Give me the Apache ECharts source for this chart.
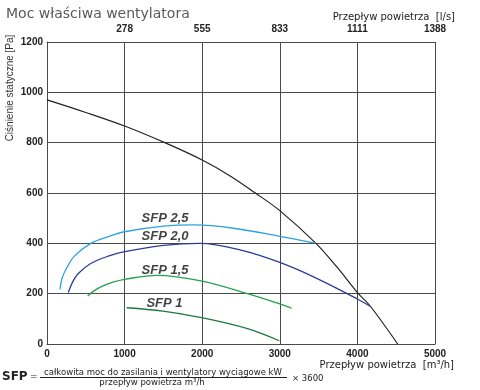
<!DOCTYPE html>
<html><head><meta charset="utf-8">
<script src="https://cdn.jsdelivr.net/npm/echarts@6/dist/echarts.min.js"></script>
<style>html,body{margin:0;padding:0;background:#fff}#c{width:480px;height:390px}</style>
</head><body><div id="c"></div>
<script>
const xTicks = [0, 1000, 2000, 3000, 4000, 5000];
const topTickLabels = ['', '278', '555', '833', '1111', '1388'];
const fanCurve = [[0,970],[500,920],[1000,866],[1540,797],[2000,731],[2360,668],[2680,601],[3000,530],[3466,400],[3733,307],[4012,200],[4162,152],[4519,0]];
const sfp25 = [[168,217],[195,262],[254,302],[350,348],[563,400],[800,428],[1000,446],[1500,468],[1900,473],[2400,460],[3000,428],[3460,401]];
const sfp20 = [[275,204],[320,240],[400,279],[563,320],[800,350],[1000,367],[1500,392],[1972,400],[2500,373],[3000,324],[3475,261],[4000,179],[4175,148]];
const sfp15 = [[524,191],[600,210],[700,228],[850,246],[1000,257],[1413,273],[2000,250],[2573,201],[3000,159],[3153,142]];
const sfp10 = [[1027,144],[1495,131],[1972,106],[2573,62],[2994,13]];
const sfpLabels = ['SFP 2,5', 'SFP 2,0', 'SFP 1,5', 'SFP 1'];
const sfpLabelPos = [[1521,500],[1521,429],[1521,294],[1514,161]];

const chart = echarts.init(document.getElementById('c'), null, {renderer: 'canvas'});
const gridColor = '#4a4a4a';
function lineSeries(data, color, w) {
  return {type: 'line', data: data, smooth: 0.35, symbol: 'none', xAxisIndex: 0, yAxisIndex: 0,
    lineStyle: {color: color, width: w}, silent: true, z: 3};
}
const tickFont = {fontFamily: 'Liberation Sans', fontSize: 10, fontWeight: 'bold', color: '#222'};
chart.setOption({
  animation: false,
  title: {text: 'Moc właściwa wentylatora', left: 1, top: 2,
    textStyle: {fontFamily: 'DejaVu Sans', fontSize: 14, fontWeight: 'normal', color: '#5a5a5a'}},
  grid: {left: 47, right: 45, top: 42, bottom: 46},
  xAxis: [
    {type: 'value', position: 'bottom', min: 0, max: 5000, interval: 1000,
      axisLine: {show: true, lineStyle: {color: gridColor}}, axisTick: {show: false},
      splitLine: {show: true, lineStyle: {color: gridColor, width: 1}},
      axisLabel: Object.assign({margin: 5, formatter: v => String(v)}, tickFont)},
    {type: 'value', position: 'top', min: 0, max: 5000, interval: 1000,
      axisLine: {show: true, lineStyle: {color: gridColor}}, axisTick: {show: false}, splitLine: {show: false},
      axisLabel: Object.assign({margin: 8, formatter: v => topTickLabels[xTicks.indexOf(v)] || ''}, tickFont)}
  ],
  yAxis: [{type: 'value', min: 0, max: 1200, interval: 200,
    axisLine: {show: true, lineStyle: {color: gridColor}}, axisTick: {show: false},
    splitLine: {show: true, lineStyle: {color: gridColor, width: 1}},
    axisLabel: Object.assign({margin: 4, formatter: v => String(v)}, tickFont)}],
  series: [
    lineSeries(fanCurve, '#222222', 1.2),
    lineSeries(sfp25, '#2ba3dc', 1.3),
    lineSeries(sfp20, '#2d3d96', 1.3),
    lineSeries(sfp15, '#24a24e', 1.3),
    lineSeries(sfp10, '#1b7a3b', 1.3),
    {type: 'scatter', symbolSize: 0, silent: true, z: 5,
      data: sfpLabelPos.map((p, i) => ({value: p, name: sfpLabels[i]})),
      label: {show: true, position: 'inside', formatter: p => p.name,
        fontFamily: 'Liberation Sans', fontSize: 13, fontWeight: 'bold', fontStyle: 'italic', color: '#111'}}
  ],
  graphic: [
    {type: 'text', x: 455, y: 17.5, style: {text: 'Przepływ powietrza  [l/s]', align: 'right', verticalAlign: 'middle',
      font: '10px "DejaVu Sans"', fill: '#222'}},
    {type: 'text', x: 454, y: 365.5, style: {text: 'Przepływ powietrza  [m³/h]', align: 'right', verticalAlign: 'middle',
      font: '10px "DejaVu Sans"', fill: '#222'}},
    {type: 'text', x: 10, y: 88, rotation: Math.PI / 2, style: {text: 'Ciśnienie statyczne [Pa]', align: 'center', verticalAlign: 'middle',
      font: '10px "Liberation Sans"', fill: '#333'}},
    {type: 'text', x: 2, y: 376.5, style: {text: 'SFP', align: 'left', verticalAlign: 'middle',
      font: 'bold 12px "DejaVu Sans"', fill: '#222'}},
    {type: 'text', x: 30, y: 377, style: {text: '=', align: 'left', verticalAlign: 'middle',
      font: '9px "DejaVu Sans"', fill: '#222'}},
    {type: 'text', x: 163, y: 373, style: {text: 'całkowita moc do zasilania i wentylatory wyciągowe kW', align: 'center', verticalAlign: 'middle',
      font: '8.5px "DejaVu Sans"', fill: '#222'}},
    {type: 'line', shape: {x1: 40, y1: 377.5, x2: 287, y2: 377.5}, style: {stroke: '#222', lineWidth: 1}},
    {type: 'text', x: 152, y: 383, style: {text: 'przepływ powietrza m³/h', align: 'center', verticalAlign: 'middle',
      font: '8.5px "DejaVu Sans"', fill: '#222'}},
    {type: 'text', x: 292, y: 379, style: {text: '× 3600', align: 'left', verticalAlign: 'middle',
      font: '8.5px "DejaVu Sans"', fill: '#222'}}
  ]
});
</script></body></html>
